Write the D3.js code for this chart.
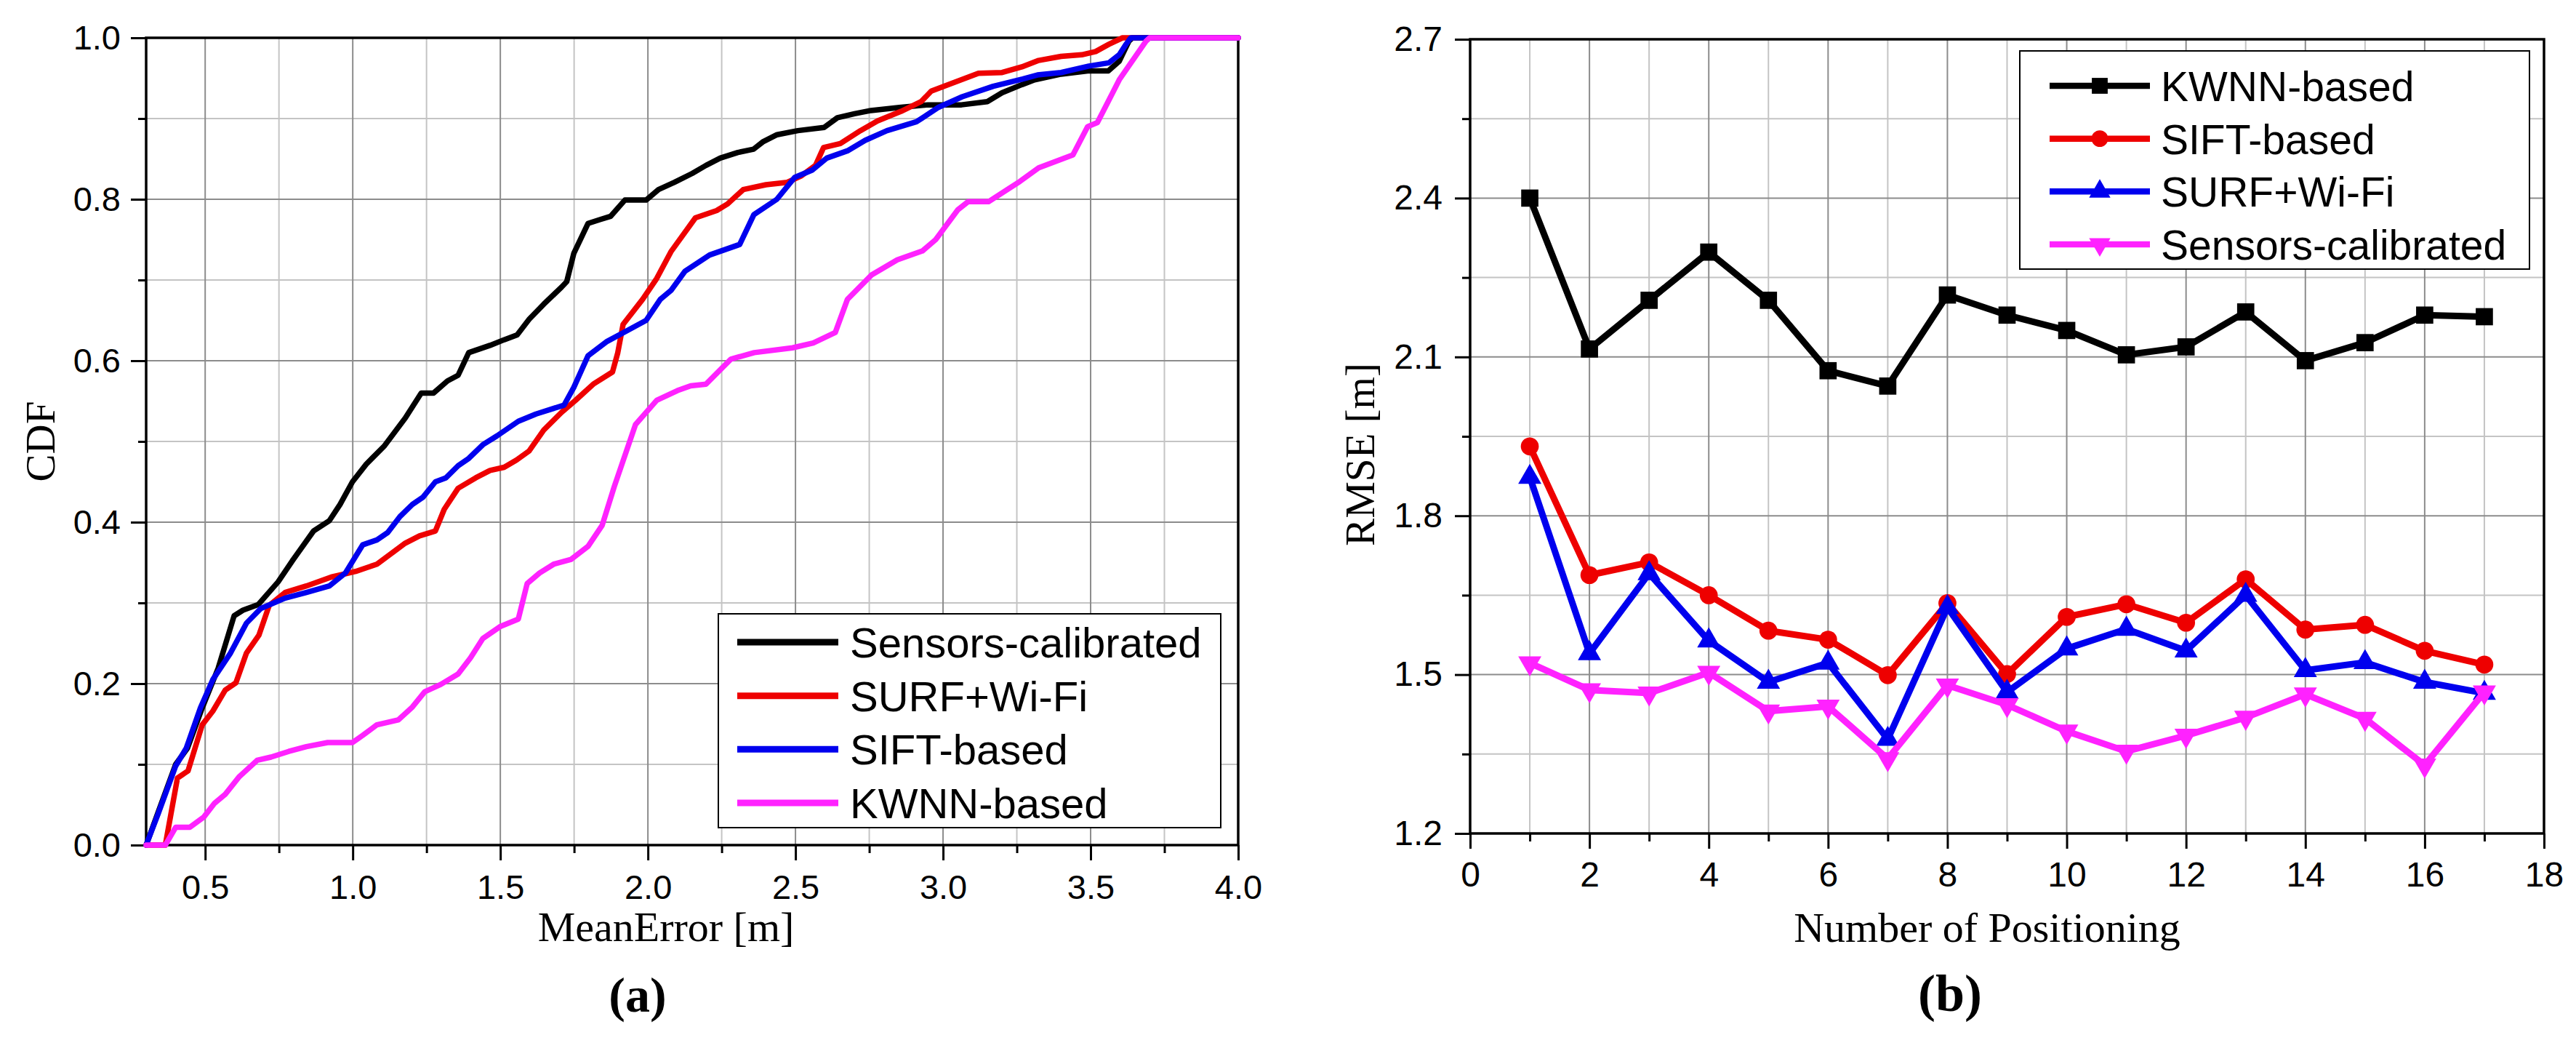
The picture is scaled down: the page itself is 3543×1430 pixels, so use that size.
<!DOCTYPE html>
<html><head><meta charset="utf-8">
<script src="https://cdn.jsdelivr.net/npm/d3@7"></script>
<style>html,body{margin:0;padding:0;background:#fff;} svg{display:block;}</style>
</head><body>
<svg id="chart" width="3543" height="1430"></svg>
<script>
// ---------- Panel (a): CDF of mean error ----------
const cdfSensorsCalibrated = [[0.3,0],[0.34,0.04],[0.4,0.1],[0.44,0.12],[0.49,0.17],[0.544,0.219],[0.598,0.284],[0.628,0.291],[0.68,0.298],[0.747,0.326],[0.795,0.352],[0.867,0.389],[0.921,0.402],[0.957,0.422],[0.999,0.45],[1.046,0.472],[1.106,0.494],[1.178,0.529],[1.232,0.56],[1.274,0.56],[1.321,0.575],[1.357,0.582],[1.393,0.61],[1.465,0.619],[1.513,0.626],[1.557,0.632],[1.599,0.652],[1.647,0.67],[1.707,0.691],[1.725,0.698],[1.749,0.733],[1.797,0.77],[1.839,0.775],[1.874,0.779],[1.922,0.799],[1.994,0.799],[2.036,0.812],[2.09,0.821],[2.15,0.832],[2.197,0.842],[2.245,0.851],[2.305,0.858],[2.358,0.862],[2.389,0.871],[2.4375,0.88],[2.508,0.885],[2.597,0.889],[2.642,0.901],[2.70,0.906],[2.756,0.91],[2.858,0.914],[2.949,0.917],[3.0625,0.917],[3.15,0.921],[3.20,0.932],[3.267,0.942],[3.31,0.948],[3.40,0.955],[3.49,0.959],[3.56,0.959],[3.597,0.971],[3.63,0.996],[3.642,1.0],[4.0,1.0]];
const cdfSurfWifi = [[0.3,0],[0.365,0],[0.406,0.083],[0.442,0.092],[0.49,0.149],[0.526,0.166],[0.568,0.192],[0.604,0.201],[0.64,0.238],[0.682,0.26],[0.717,0.297],[0.771,0.313],[0.843,0.321],[0.927,0.332],[1.01,0.339],[1.082,0.348],[1.13,0.361],[1.178,0.374],[1.226,0.383],[1.28,0.389],[1.31,0.416],[1.357,0.442],[1.417,0.455],[1.465,0.464],[1.513,0.468],[1.555,0.477],[1.597,0.488],[1.647,0.514],[1.707,0.536],[1.755,0.551],[1.815,0.571],[1.88,0.586],[1.898,0.61],[1.916,0.645],[1.982,0.676],[2.03,0.702],[2.078,0.735],[2.161,0.777],[2.233,0.786],[2.269,0.794],[2.323,0.812],[2.4,0.818],[2.472,0.821],[2.52,0.829],[2.568,0.842],[2.595,0.864],[2.652,0.869],[2.72,0.885],[2.778,0.897],[2.858,0.909],[2.926,0.921],[2.96,0.934],[3.04,0.945],[3.12,0.956],[3.20,0.957],[3.267,0.964],[3.324,0.972],[3.40,0.977],[3.47,0.979],[3.517,0.983],[3.562,0.992],[3.608,1.0],[4.0,1.0]];
const cdfSiftBased = [[0.3,0],[0.341,0.039],[0.4,0.098],[0.436,0.12],[0.484,0.17],[0.526,0.205],[0.586,0.238],[0.64,0.275],[0.688,0.293],[0.771,0.306],[0.843,0.313],[0.921,0.321],[0.975,0.337],[1.034,0.372],[1.082,0.378],[1.118,0.387],[1.16,0.407],[1.202,0.422],[1.238,0.431],[1.28,0.45],[1.316,0.455],[1.357,0.47],[1.393,0.479],[1.441,0.496],[1.489,0.507],[1.561,0.525],[1.621,0.534],[1.716,0.545],[1.749,0.567],[1.797,0.606],[1.862,0.624],[1.928,0.637],[1.994,0.65],[2.042,0.676],[2.078,0.687],[2.126,0.711],[2.209,0.731],[2.311,0.744],[2.359,0.781],[2.437,0.8],[2.497,0.827],[2.556,0.836],[2.606,0.851],[2.676,0.86],[2.736,0.873],[2.81,0.885],[2.91,0.896],[2.985,0.914],[3.065,0.927],[3.17,0.94],[3.27,0.949],[3.32,0.954],[3.40,0.957],[3.494,0.965],[3.562,0.969],[3.597,0.979],[3.62,0.992],[3.636,1.0],[4.0,1.0]];
const cdfKwnnBased = [[0.3,0],[0.365,0],[0.4,0.022],[0.448,0.022],[0.496,0.035],[0.532,0.052],[0.568,0.063],[0.616,0.085],[0.676,0.105],[0.723,0.109],[0.783,0.116],[0.843,0.122],[0.915,0.127],[0.999,0.127],[1.034,0.136],[1.082,0.149],[1.154,0.155],[1.202,0.171],[1.244,0.19],[1.298,0.199],[1.357,0.212],[1.399,0.232],[1.441,0.256],[1.501,0.271],[1.561,0.28],[1.591,0.324],[1.633,0.337],[1.681,0.348],[1.74,0.354],[1.797,0.37],[1.845,0.396],[1.886,0.444],[1.958,0.521],[2.03,0.551],[2.1,0.563],[2.145,0.569],[2.197,0.571],[2.281,0.602],[2.36,0.61],[2.49,0.616],[2.56,0.622],[2.635,0.635],[2.676,0.676],[2.757,0.706],[2.845,0.725],[2.93,0.736],[2.975,0.75],[3.05,0.787],[3.085,0.797],[3.154,0.797],[3.26,0.822],[3.324,0.839],[3.44,0.855],[3.49,0.89],[3.523,0.895],[3.597,0.948],[3.688,0.996],[3.70,1.0],[4.0,1.0]];
const cdfSeriesNames = ["Sensors-calibrated","SURF+Wi-Fi","SIFT-based","KWNN-based"];
const cdfXTickLabels = [0.5,1.0,1.5,2.0,2.5,3.0,3.5,4.0];
const cdfXMinorTicks = [0.75,1.25,1.75,2.25,2.75,3.25,3.75];
const cdfYTickLabels = [0.0,0.2,0.4,0.6,0.8,1.0];
const cdfYMinorTicks = [0.1,0.3,0.5,0.7,0.9];

// ---------- Panel (b): RMSE per positioning ----------
const positioningNumbers = [1,2,3,4,5,6,7,8,9,10,11,12,13,14,15,16,17];
const rmseKwnnBased = [2.400,2.115,2.207,2.298,2.207,2.074,2.045,2.217,2.179,2.150,2.104,2.119,2.185,2.093,2.127,2.179,2.176];
const rmseSiftBased = [1.931,1.688,1.712,1.650,1.583,1.566,1.499,1.635,1.501,1.609,1.633,1.598,1.680,1.585,1.594,1.545,1.519];
const rmseSurfWifi = [1.873,1.540,1.691,1.564,1.486,1.522,1.378,1.627,1.467,1.549,1.586,1.545,1.650,1.508,1.523,1.486,1.465];
const rmseSensorsCalibrated = [1.522,1.471,1.465,1.504,1.431,1.440,1.341,1.480,1.443,1.393,1.355,1.385,1.419,1.463,1.417,1.329,1.467];
const rmseSeriesNames = ["KWNN-based","SIFT-based","SURF+Wi-Fi","Sensors-calibrated"];
const rmseXTickLabels = [0,2,4,6,8,10,12,14,16,18];
const rmseXMinorTicks = [1,3,5,7,9,11,13,15,17];
const rmseYTickLabels = [1.2,1.5,1.8,2.1,2.4,2.7];
const rmseYMinorTicks = [1.35,1.65,1.95,2.25,2.55];

// ---------- drawing ----------
const SANS = "'Liberation Sans', Arial, Helvetica, sans-serif";
const SERIF = "'Liberation Serif', 'Times New Roman', Times, serif";
const GRID_MAJOR = "#8c8c8c", GRID_MINOR = "#c4c4c4";
const svg = d3.select("#chart");
svg.append("rect").attr("width",3543).attr("height",1430).attr("fill","#fff");

function drawFrame(x, y, opt) {
  const [x0,x1] = x.range(), [y0,y1] = y.range();
  const g = svg.append("g");
  opt.xMinor.forEach(v => g.append("line").attr("x1",x(v)).attr("x2",x(v)).attr("y1",y0).attr("y2",y1).attr("stroke",GRID_MINOR).attr("stroke-width",2));
  opt.yMinor.forEach(v => g.append("line").attr("y1",y(v)).attr("y2",y(v)).attr("x1",x0).attr("x2",x1).attr("stroke",GRID_MINOR).attr("stroke-width",2));
  opt.xMajor.filter(v => v>x.domain()[0] && v<x.domain()[1]).forEach(v => g.append("line").attr("x1",x(v)).attr("x2",x(v)).attr("y1",y0).attr("y2",y1).attr("stroke",GRID_MAJOR).attr("stroke-width",2));
  opt.yMajor.filter(v => v>y.domain()[0] && v<y.domain()[1]).forEach(v => g.append("line").attr("y1",y(v)).attr("y2",y(v)).attr("x1",x0).attr("x2",x1).attr("stroke",GRID_MAJOR).attr("stroke-width",2));

  const style = sel => {
    sel.select(".domain").remove();
    sel.selectAll(".tick line").attr("stroke","#000").attr("stroke-width",3);
    sel.selectAll(".tick text").attr("fill","#000");
    sel.attr("font-family",SANS).attr("font-size",opt.fs);
  };
  svg.append("g").attr("transform",`translate(0,${y0})`)
    .call(d3.axisBottom(x).tickValues(opt.xMinor).tickSize(11).tickFormat(""))
    .call(style);
  svg.append("g").attr("transform",`translate(${x0},0)`)
    .call(d3.axisLeft(y).tickValues(opt.yMinor).tickSize(11).tickFormat(""))
    .call(style);
  svg.append("g").attr("transform",`translate(0,${y0})`)
    .call(d3.axisBottom(x).tickValues(opt.xMajor).tickSize(21).tickPadding(opt.xPad).tickFormat(opt.xFmt))
    .call(style);
  svg.append("g").attr("transform",`translate(${x0},0)`)
    .call(d3.axisLeft(y).tickValues(opt.yMajor).tickSize(21).tickPadding(opt.yPad).tickFormat(opt.yFmt))
    .call(style);
  svg.append("rect").attr("x",x0).attr("y",y1).attr("width",x1-x0).attr("height",y0-y1)
    .attr("fill","none").attr("stroke","#000").attr("stroke-width",3.5);
}

// ----- panel (a)
const xA = d3.scaleLinear().domain([0.3,4.0]).range([201,1703]);
const yA = d3.scaleLinear().domain([0,1]).range([1162,52]);
drawFrame(xA, yA, {xMajor:cdfXTickLabels, xMinor:cdfXMinorTicks, yMajor:cdfYTickLabels, yMinor:cdfYMinorTicks,
  xFmt:d3.format(".1f"), yFmt:d3.format(".1f"), fs:47, xPad:20, yPad:14});

const cdfColors = ["#000000","#ee0000","#0000ee","#ff22ff"];
const cdfData = [cdfSensorsCalibrated, cdfSurfWifi, cdfSiftBased, cdfKwnnBased];
const lineA = d3.line().x(d => xA(d[0])).y(d => yA(d[1]));
cdfData.forEach((s,i) => svg.append("path").attr("d",lineA(s)).attr("fill","none")
  .attr("stroke",cdfColors[i]).attr("stroke-width",7.5).attr("stroke-linejoin","round").attr("stroke-linecap","round"));

const legA = svg.append("g");
legA.append("rect").attr("x",988).attr("y",844).attr("width",691).attr("height",294).attr("fill","#fff").attr("stroke","#000").attr("stroke-width",2);
const legAY = d3.scalePoint().domain(cdfSeriesNames).range([883,1104]);
cdfSeriesNames.forEach((n,i) => {
  legA.append("line").attr("x1",1014).attr("x2",1153).attr("y1",legAY(n)).attr("y2",legAY(n)).attr("stroke",cdfColors[i]).attr("stroke-width",9);
  legA.append("text").attr("x",1169).attr("y",legAY(n)+21).attr("font-family",SANS).attr("font-size",58).text(n);
});

svg.append("text").attr("transform","translate(75,607) rotate(-90)").attr("text-anchor","middle")
  .attr("font-family",SERIF).attr("font-size",57).text("CDF");
svg.append("text").attr("x",916).attr("y",1294).attr("text-anchor","middle")
  .attr("font-family",SERIF).attr("font-size",58).text("MeanError [m]");
svg.append("text").attr("x",877).attr("y",1391).attr("text-anchor","middle")
  .attr("font-family",SERIF).attr("font-weight","bold").attr("font-size",68).text("(a)");

// ----- panel (b)
const xB = d3.scaleLinear().domain([0,18]).range([2022,3499]);
const yB = d3.scaleLinear().domain([1.2,2.7]).range([1146,54]);
drawFrame(xB, yB, {xMajor:rmseXTickLabels, xMinor:rmseXMinorTicks, yMajor:rmseYTickLabels, yMinor:rmseYMinorTicks,
  xFmt:d3.format("d"), yFmt:d3.format(".1f"), fs:48, xPad:18, yPad:17});

const rmseColors = ["#000000","#ee0000","#0000ee","#ff22ff"];
const rmseData = [rmseKwnnBased, rmseSiftBased, rmseSurfWifi, rmseSensorsCalibrated];
const rmseSymbols = [
  {type:d3.symbolSquare, size:560, rot:0},
  {type:d3.symbolCircle, size:480, rot:0},
  {type:d3.symbolTriangle, size:440, rot:0},
  {type:d3.symbolTriangle, size:440, rot:180}
];
const lineB = d3.line().x((d,i) => xB(positioningNumbers[i])).y(d => yB(d));
rmseData.forEach((s,i) => {
  const g = svg.append("g");
  g.append("path").attr("d",lineB(s)).attr("fill","none").attr("stroke",rmseColors[i])
    .attr("stroke-width",9).attr("stroke-linejoin","miter");
  g.selectAll("path.m").data(s).enter().append("path").attr("class","m")
    .attr("d", d3.symbol().type(rmseSymbols[i].type).size(rmseSymbols[i].size))
    .attr("transform",(d,j) => `translate(${xB(positioningNumbers[j])},${yB(d)}) rotate(${rmseSymbols[i].rot})`)
    .attr("fill",rmseColors[i]);
});

const legB = svg.append("g");
legB.append("rect").attr("x",2778).attr("y",70).attr("width",701).attr("height",300).attr("fill","#fff").attr("stroke","#000").attr("stroke-width",2);
const legBY = d3.scalePoint().domain(rmseSeriesNames).range([118,336]);
rmseSeriesNames.forEach((n,i) => {
  const yy = legBY(n);
  legB.append("line").attr("x1",2819).attr("x2",2957).attr("y1",yy).attr("y2",yy).attr("stroke",rmseColors[i]).attr("stroke-width",8.5);
  legB.append("path").attr("d", d3.symbol().type(rmseSymbols[i].type).size(rmseSymbols[i].size*0.85))
    .attr("transform",`translate(2888,${yy}) rotate(${rmseSymbols[i].rot})`).attr("fill",rmseColors[i]);
  legB.append("text").attr("x",2972).attr("y",yy+21).attr("font-family",SANS).attr("font-size",57).text(n);
});

svg.append("text").attr("transform","translate(1890,625) rotate(-90)").attr("text-anchor","middle")
  .attr("font-family",SERIF).attr("font-size",57).text("RMSE [m]");
svg.append("text").attr("x",2733).attr("y",1295).attr("text-anchor","middle")
  .attr("font-family",SERIF).attr("font-size",58).text("Number of Positioning");
svg.append("text").attr("x",2682).attr("y",1390).attr("text-anchor","middle")
  .attr("font-family",SERIF).attr("font-weight","bold").attr("font-size",72).text("(b)");
</script>
</body></html>
